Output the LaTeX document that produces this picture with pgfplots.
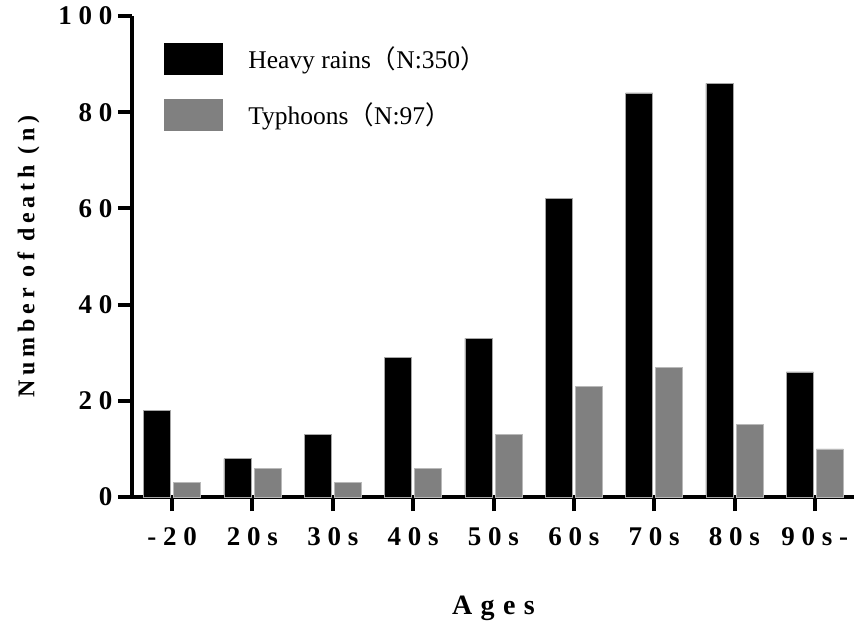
\documentclass[border=0pt]{standalone}
\usepackage{fontspec}
\setmainfont{Liberation Serif}
\newfontfamily\spaced[LetterSpace=25]{Liberation Serif}
\newfontfamily\spacedwide[LetterSpace=30]{Liberation Serif}
\newfontfamily\spacedlab[LetterSpace=20]{Liberation Serif}
\newfontfamily\cjk{Noto Sans CJK SC}
\usepackage{pgfplots}
\usepackage{pgfplotstable}
\pgfplotsset{compat=1.18}

% deaths by age group
\pgfplotstableread{
x rain typhoon
0 18 3
1 8  6
2 13 3
3 29 6
4 33 13
5 62 23
6 84 27
7 86 15
8 26 10
}\deaths

\definecolor{bargray}{RGB}{128,128,128}

\begin{document}
\begin{tikzpicture}
\useasboundingbox (-132pt,-128pt) rectangle (722pt,497pt);
\begin{axis}[
    at={(0pt,0pt)}, anchor=south west,
    scale only axis,
    width=723pt, height=481pt,
    xmin=-0.5, xmax=8.5,
    ymin=0, ymax=100,
    axis lines*=left,
    axis line style={line width=4pt, black},
    tick align=outside,
    major tick length=14pt,
    tick style={line width=4pt, black},
    xtick={0,...,8},
    xticklabels={-20,20s,30s,40s,50s,60s,70s,80s,90s-},
    ytick={0,20,40,60,80,100},
    yticklabels={0,20,40,60,80,100},
    tick label style={font=\spaced\bfseries\fontsize{27}{31}\selectfont},
    xticklabel style={yshift=-13pt},
    yticklabel style={xshift=-2pt},
    xlabel={Ages},
    xlabel style={at={(axis description cs:0.5,0)}, anchor=center, yshift=-111pt,
        font=\spacedwide\bfseries\fontsize{28}{32}\selectfont},
    ylabel={Number of death (n)},
    ylabel style={at={(axis description cs:-0.143,0.5)}, anchor=center,
        font=\spacedlab\bfseries\fontsize{24}{28}\selectfont},
    legend style={at={(axis description cs:0.0443,0.944)}, anchor=north west,
        draw=none, fill=none, inner sep=0pt, outer sep=0pt, row sep=24pt,
        font=\fontsize{25.5}{29}\selectfont},
    legend cell align=left,
]
\addplot[ybar, bar width=0.336, bar shift=-0.187, fill=black, draw=gray!70, line width=0.6pt,
    legend image code/.code={\fill[black] (0pt,-15.5pt) rectangle (58pt,15.5pt);
        \path[draw=none, fill=none] (0pt,0pt) -- (82pt,0pt);}]
    table[x=x, y=rain] {\deaths};
\addlegendentry{Heavy rains{\cjk （}N:350{\cjk ）}}
\addplot[ybar, bar width=0.336, bar shift=0.187, fill=bargray, draw=gray!55, line width=0.8pt,
    legend image code/.code={\fill[bargray] (0pt,-15.5pt) rectangle (58pt,15.5pt);
        \path[draw=none, fill=none] (0pt,0pt) -- (82pt,0pt);}]
    table[x=x, y=typhoon] {\deaths};
\addlegendentry{Typhoons{\cjk （}N:97{\cjk ）}}
\end{axis}
\end{tikzpicture}
\end{document}
